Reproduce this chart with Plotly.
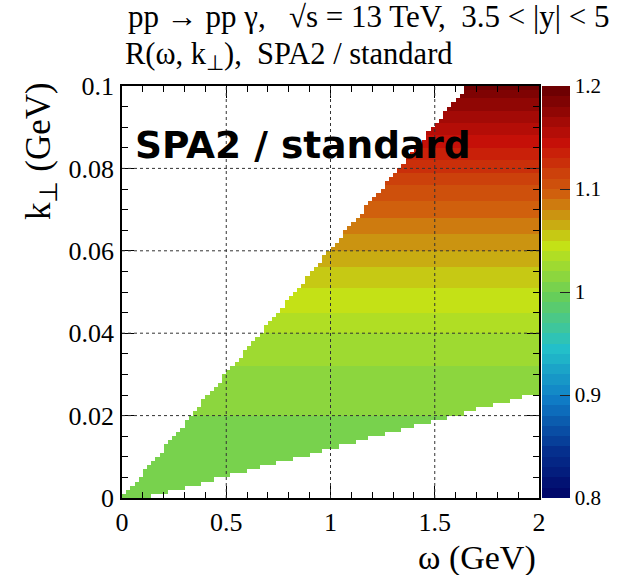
import numpy as np
import plotly.graph_objects as go

# ---------------- data ----------------
# histogram binning (100 x 100 bins)
omega_edges = np.linspace(0.0, 2.0, 101)      # GeV
kperp_edges = np.linspace(0.0, 0.1, 101)      # GeV

# rapidity window of the photon (from the title): 3.5 < |y| < 5
y_low, y_high = 3.5, 5.0

# ratio R per k_perp row (bottom row first)
R_rows = [
    1.005, 1.005, 1.005, 1.005, 1.005, 1.005, 1.005, 1.005, 1.005, 1.005,
    1.005, 1.005, 1.005, 1.005, 1.005, 1.005, 1.005, 1.005, 1.005, 1.005,
    1.015, 1.015, 1.015, 1.015, 1.015, 1.015, 1.015, 1.015, 1.015, 1.015,
    1.015, 1.015, 1.025, 1.025, 1.025, 1.025, 1.025, 1.025, 1.025, 1.025,
    1.035, 1.035, 1.035, 1.035, 1.035, 1.045, 1.045, 1.045, 1.045, 1.045,
    1.045, 1.055, 1.055, 1.055, 1.055, 1.055, 1.065, 1.065, 1.065, 1.065,
    1.075, 1.075, 1.075, 1.075, 1.085, 1.085, 1.085, 1.085, 1.095, 1.095,
    1.095, 1.095, 1.105, 1.105, 1.105, 1.105, 1.115, 1.115, 1.115, 1.125,
    1.125, 1.125, 1.135, 1.135, 1.135, 1.145, 1.145, 1.145, 1.155, 1.155,
    1.155, 1.165, 1.165, 1.165, 1.175, 1.175, 1.175, 1.185, 1.185, 1.195,
]

x_ticks = [0, 0.5, 1, 1.5, 2]
x_tick_text = ["0", "0.5", "1", "1.5", "2"]
y_ticks = [0, 0.02, 0.04, 0.06, 0.08, 0.1]
y_tick_text = ["0", "0.02", "0.04", "0.06", "0.08", "0.1"]
z_ticks = [0.8, 0.9, 1.0, 1.1, 1.2]
z_tick_text = ["0.8", "0.9", "1", "1.1", "1.2"]
z_min, z_max, n_contours = 0.8, 1.2, 40

# ---------------- build histogram ----------------
wc = 0.5 * (omega_edges[:-1] + omega_edges[1:])
kc = 0.5 * (kperp_edges[:-1] + kperp_edges[1:])
dk = kperp_edges[1] - kperp_edges[0]
W, K = np.meshgrid(wc, kc)
Z = np.tile(np.array(R_rows)[:, None], (1, len(wc)))
K_idx = np.tile(np.arange(len(kc))[:, None], (1, len(wc)))
inside = (W >= K * np.cosh(y_low)) & ((K_idx + 2) * dk >= W / np.cosh(y_high))
Z = np.where(inside, Z, np.nan)

# ---------------- ROOT kRainBow palette, 40 contours ----------------
stops = np.linspace(0, 1, 9)
red = np.array([0, 5, 15, 35, 102, 196, 208, 199, 110])
green = np.array([0, 48, 124, 192, 206, 226, 97, 16, 0])
blue = np.array([99, 142, 198, 201, 90, 22, 13, 8, 2])
ncol = 255
colorscale = []
for i in range(n_contours):
    idx = int((i + 0.99) * ncol / n_contours)
    t = min(idx, ncol - 1) / (ncol - 1)
    r = np.interp(t, stops, red)
    g = np.interp(t, stops, green)
    b = np.interp(t, stops, blue)
    c = f"rgb({int(round(r))},{int(round(g))},{int(round(b))})"
    colorscale.append([i / n_contours, c])
    colorscale.append([(i + 1) / n_contours, c])

# ---------------- geometry (pixels) ----------------
W_PX, H_PX = 636, 575
L, R, T, B = 122, 97, 86, 77
pw, ph = W_PX - L - R, H_PX - T - B


def px_x(px):
    return (px - L) / pw


def px_y(py):
    return (H_PX - B - py) / ph


serif = "Liberation Serif"

fig = go.Figure()
fig.add_trace(go.Heatmap(
    x=wc, y=kc, z=Z, zmin=z_min, zmax=z_max, colorscale=colorscale,
    hoverongaps=False,
    colorbar=dict(
        x=px_x(542), xanchor="left", y=0.5, yanchor="middle",
        thickness=28, thicknessmode="pixels",
        len=ph, lenmode="pixels", xpad=0, ypad=0, outlinewidth=0,
        tickvals=z_ticks, ticktext=z_tick_text,
        ticks="inside", ticklen=10, tickcolor="#222", tickwidth=1,
        tickfont=dict(family=serif, size=21, color="black"),
    ),
))

shapes = []
for v in x_ticks[1:-1]:
    shapes.append(dict(type="line", xref="x", yref="y", x0=v, x1=v, y0=0, y1=0.1,
                       line=dict(color="#333", width=1, dash="dot"), layer="above"))
for v in y_ticks[1:-1]:
    shapes.append(dict(type="line", xref="x", yref="y", x0=0, x1=2, y0=v, y1=v,
                       line=dict(color="#333", width=1, dash="dot"), layer="above"))

annotations = [
    dict(text="pp → pp γ,   √s = 13 TeV,  3.5 < |y| < 5", xref="paper", yref="paper",
         x=px_x(126), y=px_y(17), xanchor="left", yanchor="middle", showarrow=False,
         font=dict(family=serif, size=31, color="black")),
    dict(text="R(ω, k<sub>⊥</sub>),  SPA2 / standard", xref="paper", yref="paper",
         x=px_x(123), y=px_y(56), xanchor="left", yanchor="middle", showarrow=False,
         font=dict(family=serif, size=30.5, color="black")),
    dict(text="<b>SPA2 / standard</b>", xref="paper", yref="paper",
         x=px_x(133), y=px_y(145), xanchor="left", yanchor="middle", showarrow=False,
         font=dict(family="DejaVu Sans", size=37.5, color="black")),
    dict(text="ω (GeV)", xref="paper", yref="paper",
         x=px_x(538), y=px_y(558), xanchor="right", yanchor="middle", showarrow=False,
         font=dict(family=serif, size=34, color="black")),
    dict(text="k<sub>⊥</sub> (GeV)", xref="paper", yref="paper", textangle=-90,
         x=px_x(40), y=px_y(80), xanchor="center", yanchor="top", showarrow=False,
         font=dict(family=serif, size=35, color="black")),
]

axis_common = dict(
    showgrid=False, zeroline=False, showline=True, linecolor="black", linewidth=1.5,
    mirror="ticks", ticks="inside", ticklen=12, tickcolor="black", tickwidth=1,
    tickfont=dict(family=serif, size=26, color="black"),
)

fig.update_layout(
    width=W_PX, height=H_PX,
    margin=dict(l=L, r=R, t=T, b=B, pad=0),
    paper_bgcolor="white", plot_bgcolor="white",
    xaxis=dict(range=[0, 2], tickvals=x_ticks, ticktext=x_tick_text,
               minor=dict(dtick=0.1, ticks="inside", ticklen=6, tickcolor="black"),
               ticklabelstandoff=0, **axis_common),
    yaxis=dict(range=[0, 0.1], tickvals=y_ticks, ticktext=y_tick_text,
               minor=dict(dtick=0.005, ticks="inside", ticklen=6, tickcolor="black"),
               ticklabelstandoff=1, **axis_common),
    shapes=shapes, annotations=annotations, showlegend=False,
)

fig.write_html("out.html", config={"displayModeBar": False},
               post_script="document.body.style.margin='0px';")
